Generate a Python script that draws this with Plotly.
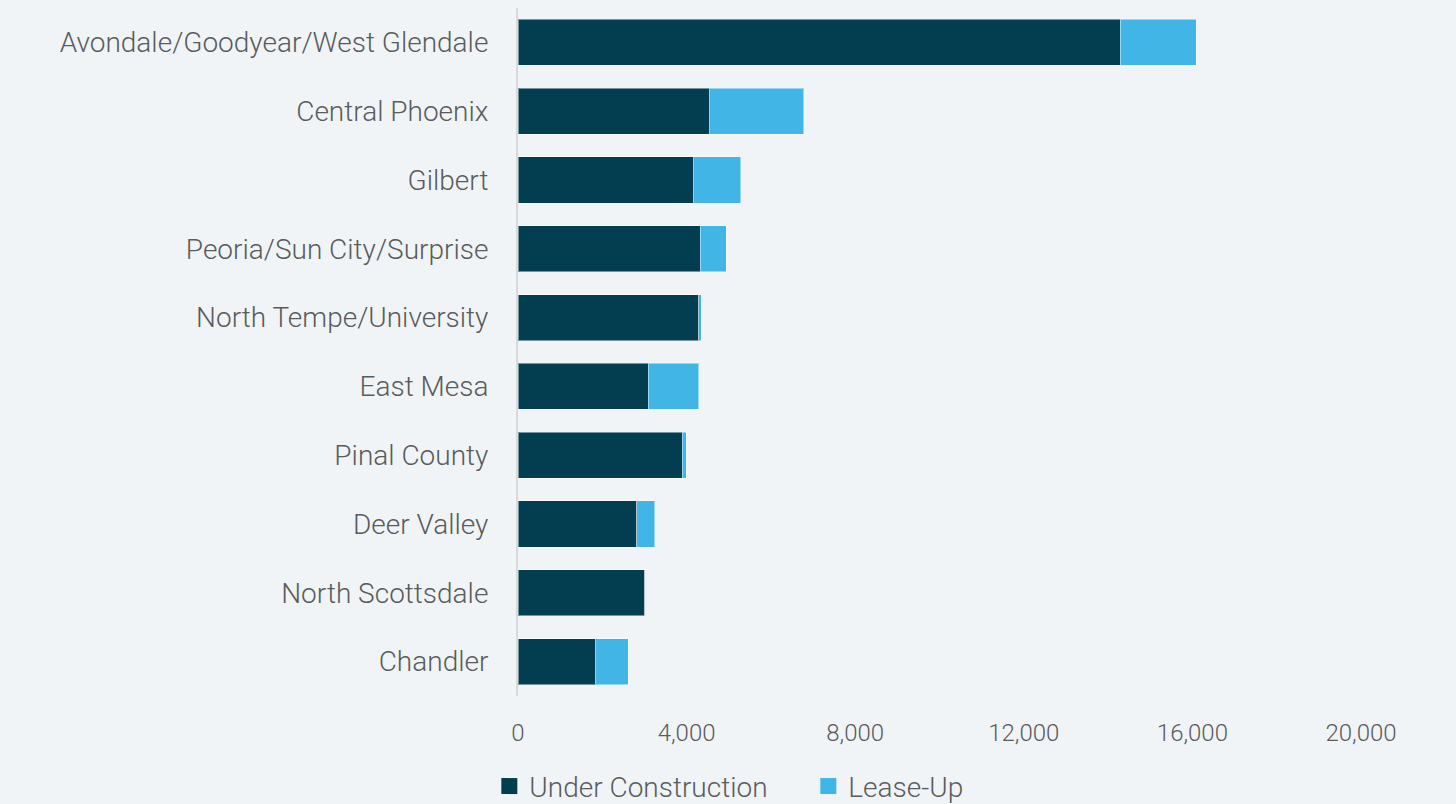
import plotly.graph_objects as go

submarkets = ["Avondale/Goodyear/West Glendale", "Central Phoenix", "Gilbert",
              "Peoria/Sun City/Surprise", "North Tempe/University", "East Mesa",
              "Pinal County", "Deer Valley", "North Scottsdale", "Chandler"]
under_construction = [14290, 4555, 4175, 4318, 4294, 3091, 3891, 2823, 3006, 1850]
lease_up = [1800, 2230, 1115, 617, 48, 1203, 102, 427, 0, 760]
tick_vals = [0, 4000, 8000, 12000, 16000, 20000]
tick_text = ["0", "4,000", "8,000", "12,000", "16,000", "20,000"]

BG = "#F0F4F6"
TXT = "#5A5B5D"
FONT = "Roboto"
DARK = "#023E50"
LIGHT = "#41B6E6"

fig = go.Figure()
fig.add_trace(go.Bar(y=submarkets, x=under_construction, name="Under Construction",
                     orientation="h", showlegend=False, marker=dict(color=DARK,
                     line=dict(color="rgba(255,255,255,0.45)", width=1))))
fig.add_trace(go.Bar(y=submarkets, x=lease_up, name="Lease-Up",
                     orientation="h", showlegend=False, marker=dict(color=LIGHT,
                     line=dict(color="rgba(255,255,255,0.45)", width=1))))
# legend entries with larger square swatches
for nm, col in [("Under Construction", DARK), ("Lease-Up", LIGHT)]:
    fig.add_trace(go.Scatter(x=[None], y=[None], mode="markers", name=nm,
                             marker=dict(symbol="square", size=17, color=col,
                                         line=dict(width=0))))

fig.update_layout(
    barmode="stack",
    bargap=0.33,
    width=1456, height=804,
    margin=dict(l=518, r=95, t=8, b=108, autoexpand=False),
    paper_bgcolor=BG, plot_bgcolor=BG,
    font=dict(family=FONT, size=24, color=TXT),
    showlegend=True,
    legend=dict(orientation="h", x=-0.034, y=-0.095, xanchor="left", yanchor="top",
                font=dict(family=FONT, size=28, color=TXT, weight=300),
                bgcolor="rgba(0,0,0,0)", itemsizing="trace",
                itemwidth=30, entrywidth=274, traceorder="normal"),
    xaxis=dict(range=[0, 20000], tickvals=tick_vals, ticktext=tick_text,
               showgrid=False, zeroline=False, showline=False,
               tickfont=dict(family=FONT, size=24, color=TXT, weight=300), ticks="",
               ticklabelstandoff=20),
    yaxis=dict(categoryorder="array", categoryarray=submarkets, autorange="reversed",
               showgrid=False, zeroline=False, showline=True, linecolor="#D9D9D9",
               linewidth=2, ticks="", tickfont=dict(family=FONT, size=28, color=TXT, weight=300),
               ticklabelstandoff=22),
)

fig.write_html("out.html")
